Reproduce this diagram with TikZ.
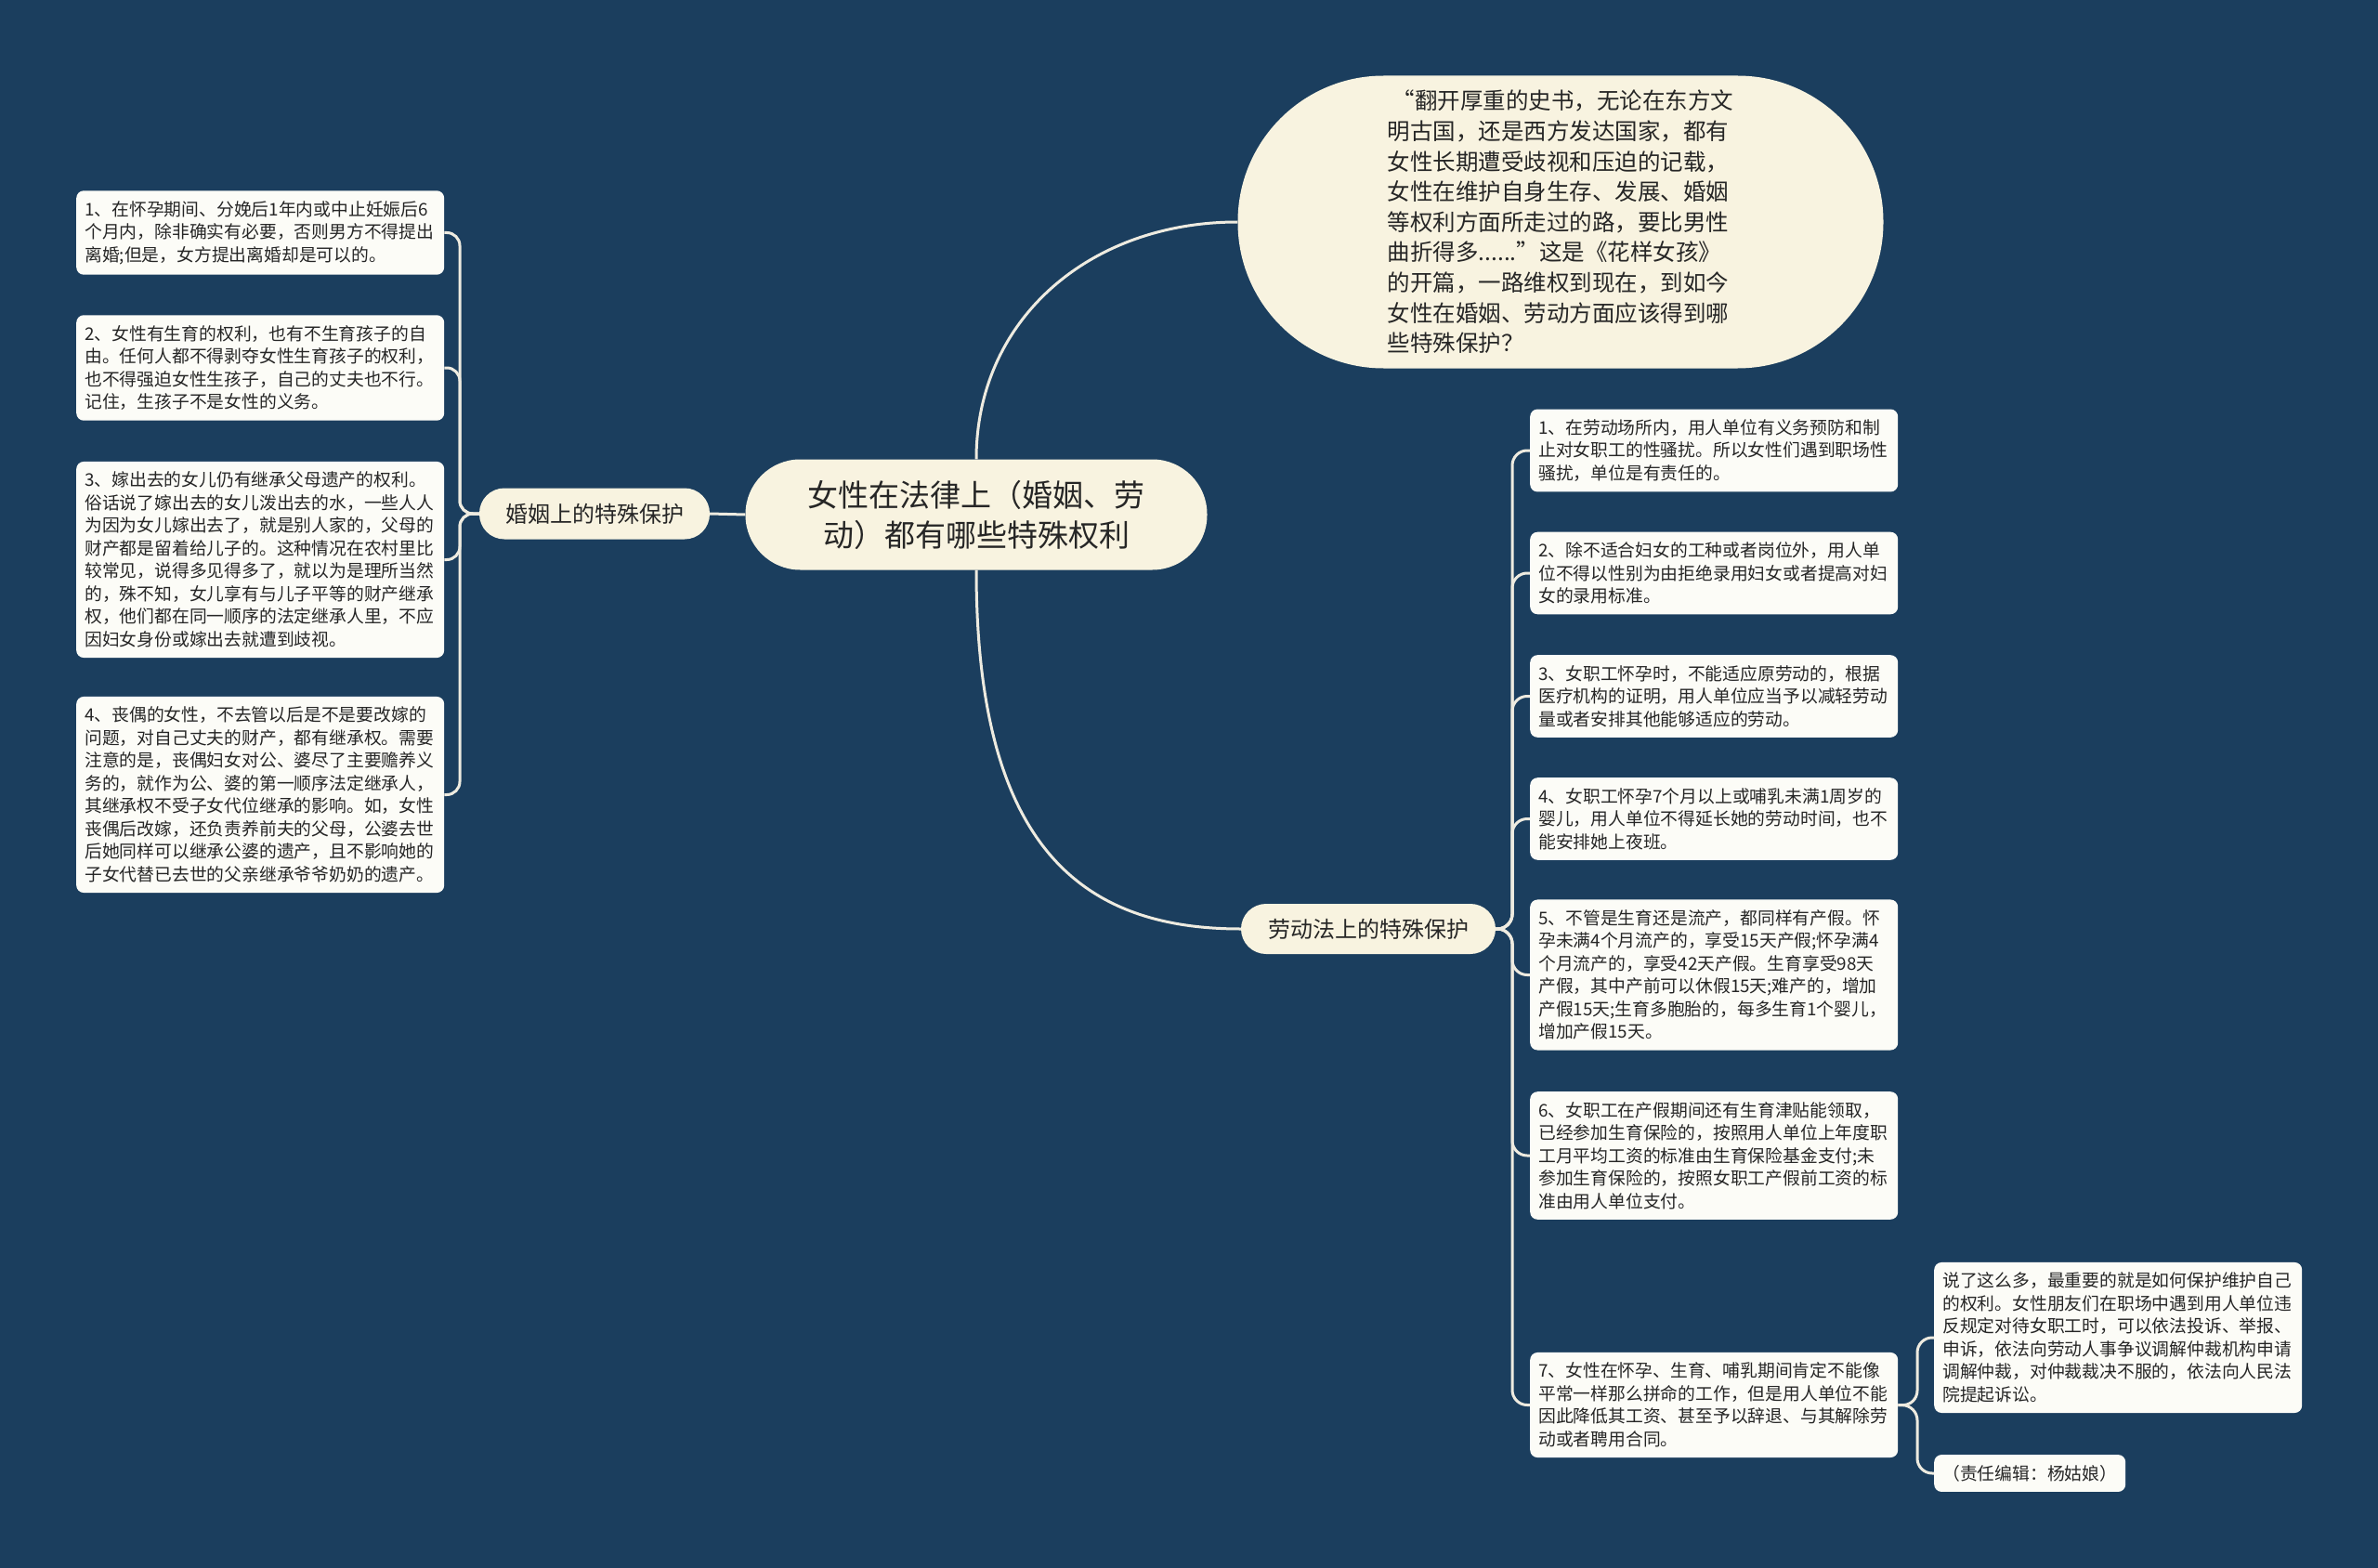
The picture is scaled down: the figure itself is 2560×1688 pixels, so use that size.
\documentclass[tikz,border=0pt]{standalone}
\usepackage{fontspec}
\setmainfont{Noto Sans CJK SC}
\definecolor{bgc}{HTML}{1B3E5E}
\definecolor{cream}{HTML}{F8F3E0}
\definecolor{leaffill}{HTML}{FCFCF7}
\definecolor{linec}{HTML}{EEEBE0}
\definecolor{txt}{HTML}{262626}
\tikzset{
  leafbox/.style={rectangle, rounded corners=8pt, fill=leaffill, text=txt,
    text width=378pt, inner xsep=9pt, inner ysep=11pt, align=left, anchor=west,
    font=\fontsize{18.8}{24.5}\selectfont},
  stadium/.style={rectangle, fill=cream, text=txt, align=center},
  conn/.style={draw=linec, line width=3pt},
}
\begin{document}
\begin{tikzpicture}[x=1pt,y=-1pt]
\fill[bgc] (0,0) rectangle (2560,1688);
\useasboundingbox (0,0) rectangle (2560,1688);

% main nodes
\node[stadium, minimum width=497pt, minimum height=119pt, rounded corners=59pt,
  font=\fontsize{33}{43}\selectfont] (root) at (1051,554)
  {女性在法律上（婚姻、劳\\动）都有哪些特殊权利};

\node[stadium, minimum width=695pt, minimum height=315pt, rounded corners=157pt,
  align=left, font=\fontsize{24.5}{32.6}\selectfont] (intro) at (1680,239)
  {\hspace{0.2em}“翻开厚重的史书，无论在东方文\\
   明古国，还是西方发达国家，都有\\
   女性长期遭受歧视和压迫的记载，\\
   女性在维护自身生存、发展、婚姻\\
   等权利方面所走过的路，要比男性\\
   曲折得多......”这是《花样女孩》\\
   的开篇，一路维权到现在，到如今\\
   女性在婚姻、劳动方面应该得到哪\\
   些特殊保护？};

\node[stadium, minimum width=248pt, minimum height=55pt, rounded corners=27pt,
  font=\fontsize{24}{30}\selectfont] (mar) at (640,553) {婚姻上的特殊保护};

\node[stadium, minimum width=274pt, minimum height=54pt, rounded corners=27pt,
  font=\fontsize{24}{30}\selectfont] (lab) at (1473,1000) {劳动法上的特殊保护};

% left leaves
\node[leafbox] (L1) at (82,250.5)
  {1、在怀孕期间、分娩后1年内或中止妊娠后6\\
   个月内，除非确实有必要，否则男方不得提出\\
   离婚;但是，女方提出离婚却是可以的。};
\node[leafbox] (L2) at (82,396)
  {2、女性有生育的权利，也有不生育孩子的自\\
   由。任何人都不得剥夺女性生育孩子的权利，\\
   也不得强迫女性生孩子，自己的丈夫也不行。\\
   记住，生孩子不是女性的义务。};
\node[leafbox] (L3) at (82,602.5)
  {3、嫁出去的女儿仍有继承父母遗产的权利。\\
   俗话说了嫁出去的女儿泼出去的水，一些人人\\
   为因为女儿嫁出去了，就是别人家的，父母的\\
   财产都是留着给儿子的。这种情况在农村里比\\
   较常见，说得多见得多了，就以为是理所当然\\
   的，殊不知，女儿享有与儿子平等的财产继承\\
   权，他们都在同一顺序的法定继承人里，不应\\
   因妇女身份或嫁出去就遭到歧视。};
\node[leafbox] (L4) at (82,855.5)
  {4、丧偶的女性，不去管以后是不是要改嫁的\\
   问题，对自己丈夫的财产，都有继承权。需要\\
   注意的是，丧偶妇女对公、婆尽了主要赡养义\\
   务的，就作为公、婆的第一顺序法定继承人，\\
   其继承权不受子女代位继承的影响。如，女性\\
   丧偶后改嫁，还负责养前夫的父母，公婆去世\\
   后她同样可以继承公婆的遗产，且不影响她的\\
   子女代替已去世的父亲继承爷爷奶奶的遗产。};

% right leaves
\node[leafbox] (R1) at (1647,485)
  {1、在劳动场所内，用人单位有义务预防和制\\
   止对女职工的性骚扰。所以女性们遇到职场性\\
   骚扰，单位是有责任的。};
\node[leafbox] (R2) at (1647,617)
  {2、除不适合妇女的工种或者岗位外，用人单\\
   位不得以性别为由拒绝录用妇女或者提高对妇\\
   女的录用标准。};
\node[leafbox] (R3) at (1647,749.5)
  {3、女职工怀孕时，不能适应原劳动的，根据\\
   医疗机构的证明，用人单位应当予以减轻劳动\\
   量或者安排其他能够适应的劳动。};
\node[leafbox] (R4) at (1647,881.5)
  {4、女职工怀孕7个月以上或哺乳未满1周岁的\\
   婴儿，用人单位不得延长她的劳动时间，也不\\
   能安排她上夜班。};
\node[leafbox] (R5) at (1647,1049.5)
  {5、不管是生育还是流产，都同样有产假。怀\\
   孕未满4个月流产的，享受15天产假;怀孕满4\\
   个月流产的，享受42天产假。生育享受98天\\
   产假，其中产前可以休假15天;难产的，增加\\
   产假15天;生育多胞胎的，每多生育1个婴儿，\\
   增加产假15天。};
\node[leafbox] (R6) at (1647,1244)
  {6、女职工在产假期间还有生育津贴能领取，\\
   已经参加生育保险的，按照用人单位上年度职\\
   工月平均工资的标准由生育保险基金支付;未\\
   参加生育保险的，按照女职工产假前工资的标\\
   准由用人单位支付。};
\node[leafbox] (R7) at (1647,1512.5)
  {7、女性在怀孕、生育、哺乳期间肯定不能像\\
   平常一样那么拼命的工作，但是用人单位不能\\
   因此降低其工资、甚至予以辞退、与其解除劳\\
   动或者聘用合同。};

\node[leafbox] (F1) at (2082,1440)
  {说了这么多，最重要的就是如何保护维护自己\\
   的权利。女性朋友们在职场中遇到用人单位违\\
   反规定对待女职工时，可以依法投诉、举报、\\
   申诉，依法向劳动人事争议调解仲裁机构申请\\
   调解仲裁，对仲裁裁决不服的，依法向人民法\\
   院提起诉讼。};
\node[leafbox, text width=] (F2) at (2082,1586) {（责任编辑：杨姑娘）};

% junction coordinates
\coordinate (jl) at (495,553);
\coordinate (jr) at (1628,1000);
\coordinate (jf) at (2064,1513);

% connectors
\draw[conn] (root.north) .. controls +(0,-150) and +(-160,0) .. (intro.west);
\draw[conn] (root.south) .. controls +(0,300) and +(-170,0) .. (lab.west);
\draw[conn] (root.west) -- (mar.east);

\foreach \n in {L1,L2,L3,L4}
  \draw[conn, rounded corners=14pt] (mar.west) -- (jl) |- (\n.east);
\foreach \n in {R1,R2,R3,R4,R5,R6,R7}
  \draw[conn, rounded corners=16pt] (lab.east) -- (jr) |- (\n.west);
\foreach \n in {F1,F2}
  \draw[conn, rounded corners=16pt] (R7.east) -- (jf) |- (\n.west);
\end{tikzpicture}
\end{document}
